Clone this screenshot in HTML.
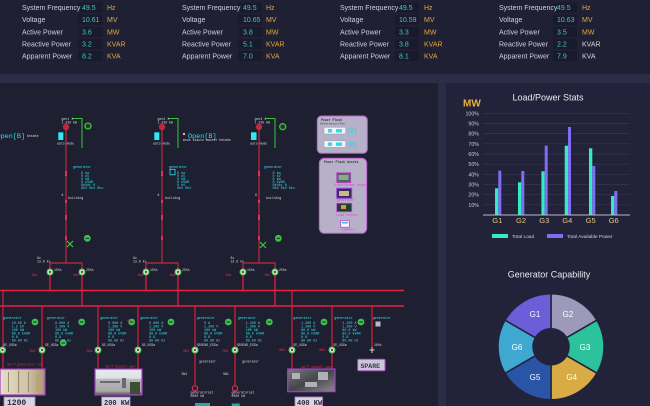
<!DOCTYPE html>
<html><head><meta charset="utf-8"><style>
html,body{margin:0;padding:0;background:#1f2034;width:650px;height:406px;overflow:hidden}
svg{display:block}
.l{font-family:"Liberation Sans",sans-serif;font-size:7px;fill:#d0d0dc}
.v{font-family:"Liberation Sans",sans-serif;font-size:7px;fill:#3ccdb6}
.u{font-family:"Liberation Sans",sans-serif;font-size:7px;fill:#e2a93c}
.uw{font-family:"Liberation Sans",sans-serif;font-size:7px;fill:#d8d8e4}
.m{font-family:"Liberation Mono",monospace;font-size:3.4px;fill:#35e2ea}
.w{font-family:"Liberation Mono",monospace;font-size:3.2px;fill:#d8d8e0}
.r{font-family:"Liberation Mono",monospace;font-size:3.4px;fill:#e0304a}
.p{font-family:"Liberation Mono",monospace;font-size:3.4px;fill:#e040e0}
.yl{font-family:"Liberation Sans",sans-serif;font-size:5.3px;fill:#c8c8d8;text-anchor:end}
.gl{font-family:"Liberation Sans",sans-serif;font-size:7.5px;fill:#e0c98a;text-anchor:middle}
.dl{font-family:"Liberation Sans",sans-serif;font-size:8px;fill:#ffffff;text-anchor:middle}
</style></head><body>
<svg width="650" height="406" viewBox="0 0 650 406" xmlns="http://www.w3.org/2000/svg">
<!-- backgrounds -->
<rect x="0" y="0" width="650" height="406" fill="#1f2034"/>
<rect x="0" y="74" width="650" height="9" fill="#2c2d47"/>
<rect x="0" y="83" width="438" height="323" fill="#1e1f31"/>
<rect x="438" y="83" width="8" height="323" fill="#2a2b44"/>
<rect x="446" y="83" width="204" height="323" fill="#22233a"/>

<!-- top stats -->
<g>
<rect x="78" y="2.5" width="24" height="10" fill="#191a2c"/><rect x="78" y="14.7" width="24" height="10" fill="#191a2c"/><rect x="78" y="26.9" width="24" height="10" fill="#191a2c"/><rect x="78" y="39" width="24" height="10" fill="#191a2c"/><rect x="78" y="50.9" width="24" height="10" fill="#191a2c"/>
<rect x="238" y="2.5" width="24" height="10" fill="#191a2c"/><rect x="238" y="14.7" width="24" height="10" fill="#191a2c"/><rect x="238" y="26.9" width="24" height="10" fill="#191a2c"/><rect x="238" y="39" width="24" height="10" fill="#191a2c"/><rect x="238" y="50.9" width="24" height="10" fill="#191a2c"/>
<rect x="395" y="2.5" width="24" height="10" fill="#191a2c"/><rect x="395" y="14.7" width="24" height="10" fill="#191a2c"/><rect x="395" y="26.9" width="24" height="10" fill="#191a2c"/><rect x="395" y="39" width="24" height="10" fill="#191a2c"/><rect x="395" y="50.9" width="24" height="10" fill="#191a2c"/>
<rect x="553" y="2.5" width="24" height="10" fill="#191a2c"/><rect x="553" y="14.7" width="24" height="10" fill="#191a2c"/><rect x="553" y="26.9" width="24" height="10" fill="#191a2c"/><rect x="553" y="39" width="24" height="10" fill="#191a2c"/><rect x="553" y="50.9" width="24" height="10" fill="#191a2c"/>

<text class="l" x="22" y="10">System Frequency</text><text class="v" x="82" y="10">49.5</text><text class="u" x="107" y="10">Hz</text>
<text class="l" x="22" y="22.2">Voltage</text><text class="v" x="82" y="22.2">10.61</text><text class="u" x="107" y="22.2">MV</text>
<text class="l" x="22" y="34.4">Active Power</text><text class="v" x="82" y="34.4">3.6</text><text class="u" x="107" y="34.4">MW</text>
<text class="l" x="22" y="46.5">Reactive Power</text><text class="v" x="82" y="46.5">3.2</text><text class="u" x="107" y="46.5">KVAR</text>
<text class="l" x="22" y="58.4">Apparent Power</text><text class="v" x="82" y="58.4">8.2</text><text class="u" x="107" y="58.4">KVA</text>

<text class="l" x="182" y="10">System Frequency</text><text class="v" x="243" y="10">49.5</text><text class="u" x="266" y="10">Hz</text>
<text class="l" x="182" y="22.2">Voltage</text><text class="v" x="243" y="22.2">10.65</text><text class="u" x="266" y="22.2">MV</text>
<text class="l" x="182" y="34.4">Active Power</text><text class="v" x="243" y="34.4">3.8</text><text class="u" x="266" y="34.4">MW</text>
<text class="l" x="182" y="46.5">Reactive Power</text><text class="v" x="243" y="46.5">5.1</text><text class="u" x="266" y="46.5">KVAR</text>
<text class="l" x="182" y="58.4">Apparent Power</text><text class="v" x="243" y="58.4">7.0</text><text class="u" x="266" y="58.4">KVA</text>

<text class="l" x="340" y="10">System Frequency</text><text class="v" x="399" y="10">49.5</text><text class="u" x="424" y="10">Hz</text>
<text class="l" x="340" y="22.2">Voltage</text><text class="v" x="399" y="22.2">10.59</text><text class="u" x="424" y="22.2">MV</text>
<text class="l" x="340" y="34.4">Active Power</text><text class="v" x="399" y="34.4">3.3</text><text class="u" x="424" y="34.4">MW</text>
<text class="l" x="340" y="46.5">Reactive Power</text><text class="v" x="399" y="46.5">3.8</text><text class="u" x="424" y="46.5">KVAR</text>
<text class="l" x="340" y="58.4">Apparent Power</text><text class="v" x="399" y="58.4">8.1</text><text class="u" x="424" y="58.4">KVA</text>

<text class="l" x="499" y="10">System Frequency</text><text class="v" x="557" y="10">49.5</text><text class="u" x="582" y="10">Hz</text>
<text class="l" x="499" y="22.2">Voltage</text><text class="v" x="557" y="22.2">10.63</text><text class="u" x="582" y="22.2">MV</text>
<text class="l" x="499" y="34.4">Active Power</text><text class="v" x="557" y="34.4">3.5</text><text class="u" x="582" y="34.4">MW</text>
<text class="l" x="499" y="46.5">Reactive Power</text><text class="v" x="557" y="46.5">2.2</text><text class="uw" x="582" y="46.5">KVAR</text>
<text class="l" x="499" y="58.4">Apparent Power</text><text class="v" x="557" y="58.4">7.9</text><text class="uw" x="582" y="58.4">KVA</text>
</g>

<!-- ===== Single line diagram ===== -->
<!-- top feeders -->
<g stroke="#a8283e" stroke-width="1.4" fill="none">
<line x1="66" y1="127" x2="66" y2="263"/>
<line x1="162" y1="127" x2="162" y2="263"/>
<line x1="259" y1="127" x2="259" y2="263"/>
<polyline points="50,269 50,263 82,263 82,269"/>
<polyline points="146,269 146,263 178,263 178,269"/>
<polyline points="243,269 243,263 275,263 275,269"/>
</g>
<!-- bright marks on feeders -->
<g fill="#e4304a">
<rect x="65" y="171" width="2" height="5"/><rect x="65" y="200" width="2" height="3"/><rect x="65" y="215" width="2" height="5"/><rect x="65" y="236" width="2" height="4"/>
<rect x="161" y="171" width="2" height="5"/><rect x="161" y="200" width="2" height="3"/><rect x="161" y="215" width="2" height="5"/><rect x="161" y="236" width="2" height="4"/>
<rect x="258" y="171" width="2" height="5"/><rect x="258" y="200" width="2" height="3"/><rect x="258" y="215" width="2" height="5"/><rect x="258" y="236" width="2" height="4"/>
</g>
<!-- top red circles -->
<g fill="#c02842"><circle cx="66" cy="127" r="3.2"/><circle cx="162" cy="127" r="3.2"/><circle cx="259" cy="127" r="3.2"/></g>
<!-- cyan squares -->
<g fill="#30e8f2"><rect x="58.3" y="132.3" width="5" height="7.7"/><rect x="154.3" y="132.3" width="5" height="7.7"/><rect x="251" y="132.3" width="5.5" height="7.7"/></g>
<!-- green brackets -->
<g stroke="#3cc43c" stroke-width="1" fill="none">
<polyline points="72,118.5 82,118.5 82,148"/>
<polyline points="168,118.5 178,118.5 178,148"/>
<polyline points="265,118.5 275,118.5 275,148"/>
</g>
<!-- green rings top -->
<g><circle cx="88" cy="126" r="3" fill="#1e3a24" stroke="#3cc43c" stroke-width="1.3"/><circle cx="282.7" cy="126.7" r="3" fill="#1e3a24" stroke="#3cc43c" stroke-width="1.3"/></g>
<!-- small labels top -->
<text class="w" x="61.5" y="120">gen1 1</text><text class="w" x="61.5" y="123.5">1.230 kW</text>
<text class="w" x="157.5" y="120">gen2 1</text><text class="w" x="157.5" y="123.5">1.230 kW</text>
<text class="w" x="254.5" y="120">gen3 1</text><text class="w" x="254.5" y="123.5">1.230 kW</text>
<text class="w" x="57" y="144.5">auto mode</text><text class="w" x="153" y="144.5">auto mode</text><text class="w" x="250" y="144.5">auto mode</text>
<text x="-3.5" y="138" style="font-family:'Liberation Mono',monospace;font-size:6.8px;fill:#35e2ea">Open[B]</text>
<text class="w" x="27" y="137">bekahe</text>
<circle cx="184" cy="134" r="1.2" fill="#f0a0b0"/>
<text x="188" y="138" style="font-family:'Liberation Mono',monospace;font-size:6.8px;fill:#35e2ea">Open[B]</text>
<text class="w" x="183" y="141">mode stauto master bekahe</text>
<!-- data blocks top -->
<g>
<text class="m" x="73" y="168">generator</text>
<text class="m" x="81" y="174">0 kw</text><text class="m" x="81" y="177">0 kV</text><text class="m" x="81" y="180">0 kW</text><text class="m" x="81" y="183">0 kVAR</text><text class="m" x="81" y="186">0kVAr 0</text><text class="m" x="81" y="189">0kV 0kV 0kv</text>
<text class="m" x="169" y="168">generator</text>
<rect x="170" y="169.3" width="5" height="5.5" fill="none" stroke="#35e2ea" stroke-width="0.8"/>
<text class="m" x="177" y="174">0 kw</text><text class="m" x="177" y="177">0 kV</text><text class="m" x="177" y="180">0 kW</text><text class="m" x="177" y="183">0 kVAR</text><text class="m" x="177" y="186">0 kV</text><text class="m" x="177" y="189">0kV 0kV</text>
<text class="m" x="264" y="168">generator</text>
<text class="m" x="272.5" y="174">0 kw</text><text class="m" x="272.5" y="177">0 kV</text><text class="m" x="272.5" y="180">0 kW</text><text class="m" x="272.5" y="183">0 kVAR</text><text class="m" x="272.5" y="186">0kVAr 0</text><text class="m" x="272.5" y="189">0kV 0kV 0kv</text>
</g>
<text class="w" x="61.5" y="196">8</text><text class="w" x="68" y="199">building</text>
<text class="w" x="157.5" y="196">8</text><text class="w" x="165" y="199">building</text>
<text class="w" x="255" y="196">8</text><text class="w" x="266" y="199">building</text>
<!-- lower green elements on F1/F3 -->
<circle cx="87.3" cy="238.3" r="3.4" fill="#3cc44a"/><rect x="85.5" y="237.8" width="3.6" height="1" fill="#1e1f31"/>
<circle cx="278.3" cy="238.3" r="3.4" fill="#3cc44a"/><rect x="276.5" y="237.8" width="3.6" height="1" fill="#1e1f31"/>
<g stroke="#3cc43c" stroke-width="1.2"><line x1="67" y1="241" x2="73" y2="247"/><line x1="73" y1="241" x2="67" y2="247"/><line x1="260" y1="242" x2="266" y2="248"/><line x1="266" y1="242" x2="260" y2="248"/></g>
<text class="w" x="37" y="259">8x</text><text class="w" x="37" y="262.5">13.8 kv</text>
<text class="w" x="133" y="259">8x</text><text class="w" x="133" y="262.5">13.8 kv</text>
<text class="w" x="230.5" y="259">8x</text><text class="w" x="230.5" y="262.5">13.8 kv</text>

<!-- connections to bus bars -->
<g stroke="#e0223c" stroke-width="1.3">
<line x1="50" y1="275" x2="50" y2="290.5"/><line x1="82" y1="275" x2="82" y2="306"/>
<line x1="146" y1="275" x2="146" y2="290.5"/><line x1="178" y1="275" x2="178" y2="306"/>
<line x1="243" y1="275" x2="243" y2="290.5"/><line x1="275" y1="275" x2="275" y2="306"/>
</g>
<!-- breaker rings top -->
<g fill="#d8e8c8" stroke="#6ac86a" stroke-width="1.3">
<circle cx="50" cy="272" r="2.8"/><circle cx="82" cy="272" r="2.8"/><circle cx="146" cy="272" r="2.8"/><circle cx="178" cy="272" r="2.8"/><circle cx="243" cy="272" r="2.8"/><circle cx="275" cy="272" r="2.8"/>
</g>
<g fill="#3a4a34"><circle cx="50" cy="272" r="1.1"/><circle cx="82" cy="272" r="1.1"/><circle cx="146" cy="272" r="1.1"/><circle cx="178" cy="272" r="1.1"/><circle cx="243" cy="272" r="1.1"/><circle cx="275" cy="272" r="1.1"/></g>
<text class="w" x="54" y="271">150s</text><text class="w" x="86" y="271">250s</text><text class="w" x="150" y="271">150s</text><text class="w" x="182" y="271">250s</text><text class="w" x="247" y="271">150s</text><text class="w" x="279" y="271">250s</text>
<text class="r" x="31.5" y="276">SW1</text><text class="r" x="73" y="276">SW1</text><text class="r" x="137.5" y="276">SW1</text><text class="r" x="169.5" y="276">SW1</text><text class="r" x="225.5" y="276">SW1</text><text class="r" x="264.5" y="276">SW1</text>

<!-- bus bars -->
<g stroke="#e8203c" stroke-width="1.6">
<line x1="0" y1="290.5" x2="404" y2="290.5"/>
<line x1="0" y1="306" x2="404" y2="306"/>
</g>
<!-- bottom feeders -->
<g stroke="#d82038" stroke-width="1.2">
<line x1="3" y1="290.5" x2="3" y2="370"/>
<line x1="42" y1="306" x2="42" y2="370"/>
<line x1="98" y1="306" x2="98" y2="370"/>
<line x1="138" y1="306" x2="138" y2="370"/>
<line x1="195" y1="306" x2="195" y2="385"/>
<line x1="235" y1="306" x2="235" y2="385"/>
<line x1="292" y1="290.5" x2="292" y2="370"/>
<line x1="332" y1="306" x2="332" y2="370"/>
<line x1="372" y1="306" x2="372" y2="347"/>
</g>
<!-- bottom breaker rings -->
<g fill="#d8e8c8" stroke="#6ac86a" stroke-width="1.3">
<circle cx="2.5" cy="350" r="2.8"/><circle cx="42" cy="350" r="2.8"/><circle cx="98" cy="350" r="2.8"/><circle cx="138" cy="350" r="2.8"/><circle cx="195" cy="350" r="2.8"/><circle cx="235" cy="350" r="2.8"/><circle cx="292" cy="350" r="2.8"/><circle cx="332" cy="350" r="2.8"/>
</g>
<g fill="#3a4a34"><circle cx="2.5" cy="350" r="1.1"/><circle cx="42" cy="350" r="1.1"/><circle cx="98" cy="350" r="1.1"/><circle cx="138" cy="350" r="1.1"/><circle cx="195" cy="350" r="1.1"/><circle cx="235" cy="350" r="1.1"/><circle cx="292" cy="350" r="1.1"/><circle cx="332" cy="350" r="1.1"/></g>
<g stroke="#d0d0d8" stroke-width="1"><line x1="369.5" y1="350" x2="374.5" y2="350"/><line x1="372" y1="347" x2="372" y2="353"/></g>
<!-- red circles bottom -->
<g fill="none" stroke="#e0304a" stroke-width="1.2"><circle cx="195" cy="388.3" r="2.6"/><circle cx="235" cy="388.3" r="2.6"/></g>
<!-- green generator dots -->
<g fill="#3cc44a">
<circle cx="35" cy="322" r="3.4"/><circle cx="81.7" cy="322" r="3.4"/><circle cx="63.3" cy="343" r="3.4"/><circle cx="131.7" cy="322" r="3.4"/><circle cx="171" cy="322" r="3.4"/><circle cx="228.3" cy="322" r="3.4"/><circle cx="269.3" cy="322" r="3.4"/><circle cx="324" cy="322" r="3.4"/><circle cx="361" cy="322" r="3.4"/>
</g>
<g fill="#1e1f31">
<rect x="33.2" y="321.5" width="3.6" height="1"/><rect x="79.9" y="321.5" width="3.6" height="1"/><rect x="61.5" y="342.5" width="3.6" height="1"/><rect x="129.9" y="321.5" width="3.6" height="1"/><rect x="169.2" y="321.5" width="3.6" height="1"/><rect x="226.5" y="321.5" width="3.6" height="1"/><rect x="267.5" y="321.5" width="3.6" height="1"/><rect x="322.2" y="321.5" width="3.6" height="1"/><rect x="359.2" y="321.5" width="3.6" height="1"/>
</g>
<!-- bottom data blocks -->
<g>
<text class="m" x="3.3" y="319">generator</text>
<text class="m" x="11.7" y="324">10.00 A</text><text class="m" x="11.7" y="327.5">1.2 kV</text><text class="m" x="11.7" y="331">100 kW</text><text class="m" x="11.7" y="334.5">80.0 kVAR</text><text class="m" x="11.7" y="338">0.8</text><text class="m" x="11.7" y="341.5">60.00 Hz</text>
<text class="m" x="46.7" y="319">generator</text>
<text class="m" x="55" y="324">0.000 A</text><text class="m" x="55" y="327.5">1.200 V</text><text class="m" x="55" y="331">100 kW</text><text class="m" x="55" y="334.5">80.0 kVAR</text><text class="m" x="55" y="338">0.8</text><text class="m" x="55" y="341.5">60.00 Hz</text>
<text class="m" x="100" y="319">generator</text>
<text class="m" x="108" y="324">0.000 A</text><text class="m" x="108" y="327.5">1.200 V</text><text class="m" x="108" y="331">100 kW</text><text class="m" x="108" y="334.5">80.0 kVAR</text><text class="m" x="108" y="338">0.8</text><text class="m" x="108" y="341.5">60.00 Hz</text>
<text class="m" x="140" y="319">generator</text>
<text class="m" x="149" y="324">0.000 A</text><text class="m" x="149" y="327.5">1.200 V</text><text class="m" x="149" y="331">100 kW</text><text class="m" x="149" y="334.5">80.0 kVAR</text><text class="m" x="149" y="338">0.8</text><text class="m" x="149" y="341.5">60.00 Hz</text>
<text class="m" x="196.7" y="319">generator</text>
<text class="m" x="204" y="324">0 A</text><text class="m" x="204" y="327.5">1.200 V</text><text class="m" x="204" y="331">100 kW</text><text class="m" x="204" y="334.5">80.0 kVAR</text><text class="m" x="204" y="338">0.8</text><text class="m" x="204" y="341.5">60.00 Hz</text>
<text class="m" x="237.7" y="319">generator</text>
<text class="m" x="245.7" y="324">1.200 A</text><text class="m" x="245.7" y="327.5">1.200 V</text><text class="m" x="245.7" y="331">100 kW</text><text class="m" x="245.7" y="334.5">80.0 kVAR</text><text class="m" x="245.7" y="338">0.8</text><text class="m" x="245.7" y="341.5">60.00 Hz</text>
<text class="m" x="293.3" y="319">generator</text>
<text class="m" x="301" y="324">1.200 A</text><text class="m" x="301" y="327.5">1.200 V</text><text class="m" x="301" y="331">80.0 kW</text><text class="m" x="301" y="334.5">80.0 kVAR</text><text class="m" x="301" y="338">0.8</text><text class="m" x="301" y="341.5">60.00 Hz</text>
<text class="m" x="334.3" y="319">generator</text>
<text class="m" x="342.3" y="324">1.200 A</text><text class="m" x="342.3" y="327.5">1.200 V</text><text class="m" x="342.3" y="331">80.0 kW</text><text class="m" x="342.3" y="334.5">80.0 kVAR</text><text class="m" x="342.3" y="338">0.8</text><text class="m" x="342.3" y="341.5">60.00 Hz</text>
<text class="m" x="372.7" y="319">generator</text>
<rect x="375.5" y="321.5" width="5" height="5" fill="#b8b8c8" stroke="#6a6a7a" stroke-width="0.5"/>
</g>
<!-- labels under bottom breakers -->
<text class="w" x="3.3" y="346">SE_UGSa</text><text class="w" x="45" y="346">SE_UGSa</text><text class="w" x="101.7" y="346">SE_UGSa</text><text class="w" x="141.7" y="346">SE_UGSa</text><text class="w" x="196.7" y="346">SEGEND_ESSa</text><text class="w" x="236.7" y="346">SEGEND_ESSa</text><text class="w" x="293.3" y="346">SE_UGSa</text><text class="w" x="333.3" y="346">SE_UGSa</text><text class="w" x="374" y="346">100s</text>
<text class="r" x="29.5" y="352">SW1</text><text class="r" x="86.5" y="352">SW1</text><text class="r" x="127" y="322">SW1</text><text class="r" x="183" y="352">SW1</text><text class="r" x="222.5" y="352">SW1</text><text class="r" x="279" y="351">SW1</text><text class="r" x="319" y="351">SW1</text>
<text class="w" x="199" y="362.5">generator</text><text class="w" x="242" y="362.5">generator</text>
<text class="w" x="181.5" y="375">SW1</text><text class="w" x="223" y="375">SW1</text>
<text class="w" x="190.5" y="393.5">generatorset</text><text class="w" x="190.5" y="397">0000 kW</text>
<text class="w" x="231.5" y="393.5">generatorset</text><text class="w" x="231.5" y="397">0000 kW</text>
<rect x="195" y="403" width="15" height="3" fill="#2aa8a0"/><rect x="231.7" y="403.5" width="8" height="2.5" fill="#2aa8a0"/>

<!-- photo labels -->
<text class="r" x="7" y="365.5" style="font-style:italic">42/T generator set</text>
<text class="r" x="105" y="367.5" style="font-style:italic">42/T diesel gen</text>
<text class="r" x="301" y="368" style="font-style:italic">42/T diesel gen</text>

<!-- photos -->
<defs>
<linearGradient id="g1" x1="0" x2="1" y1="0" y2="0"><stop offset="0" stop-color="#e6ddc8"/><stop offset="0.6" stop-color="#cfc3a8"/><stop offset="1" stop-color="#a89670"/></linearGradient>
<linearGradient id="g2" x1="0" x2="0" y1="0" y2="1"><stop offset="0" stop-color="#e6eaee"/><stop offset="0.35" stop-color="#dfe2e6"/><stop offset="0.4" stop-color="#b8b8bc"/><stop offset="0.85" stop-color="#a8a8a8"/><stop offset="1" stop-color="#4a5a3a"/></linearGradient>
<linearGradient id="g3" x1="0" x2="1" y1="0" y2="1"><stop offset="0" stop-color="#7a7a80"/><stop offset="0.5" stop-color="#45454c"/><stop offset="1" stop-color="#8a8a90"/></linearGradient>
</defs>
<rect x="0" y="369" width="45" height="26" fill="url(#g1)" stroke="#a440c4" stroke-width="1.2"/>
<g fill="#9a8c70"><rect x="8" y="372" width="1" height="20"/><rect x="18" y="371" width="1.2" height="22"/><rect x="28" y="372" width="1" height="20"/><rect x="36" y="374" width="6" height="18" fill="#b8a27a"/></g>
<rect x="95" y="369" width="47" height="26" fill="url(#g2)" stroke="#a440c4" stroke-width="1.2"/>
<g fill="#6a6a70"><rect x="100" y="381" width="20" height="2"/><rect x="122" y="378" width="4" height="10"/><rect x="130" y="382" width="10" height="12" fill="#3e4e34"/></g>
<rect x="287.7" y="369" width="47.3" height="22.7" fill="url(#g3)" stroke="#a440c4" stroke-width="1.2"/>
<g fill="#b0b0b6"><rect x="292" y="373" width="8" height="6"/><rect x="318" y="372" width="10" height="8"/><rect x="305" y="382" width="12" height="5"/></g>

<!-- label boxes -->
<rect x="4" y="397" width="31" height="10" fill="#d8d4e2" stroke="#b080d0" stroke-width="0.8"/>
<text x="7" y="405" style="font-family:'Liberation Mono',monospace;font-size:8px;font-weight:bold;fill:#2a2a3a">1200</text>
<rect x="101.7" y="397" width="28.3" height="10" fill="#d8d4e2" stroke="#b080d0" stroke-width="0.8"/>
<text x="104" y="405" style="font-family:'Liberation Mono',monospace;font-size:7px;font-weight:bold;fill:#2a2a3a">200 KW</text>
<rect x="295" y="397" width="27.5" height="10" fill="#d8d4e2" stroke="#b080d0" stroke-width="0.8"/>
<text x="297" y="405" style="font-family:'Liberation Mono',monospace;font-size:7px;font-weight:bold;fill:#2a2a3a">400 KW</text>
<rect x="357.7" y="359.3" width="27.3" height="11.4" rx="1" fill="#cac6d8" stroke="#a650c4" stroke-width="1"/>
<text x="360.5" y="367.8" style="font-family:'Liberation Mono',monospace;font-size:6.5px;font-weight:bold;fill:#3a3a4a">SPARE</text>

<!-- Power flash boxes -->
<rect x="317.3" y="116" width="50" height="37.3" rx="4" fill="#b6b0c8" stroke="#c060d0" stroke-width="1"/>
<text x="321" y="121" style="font-family:'Liberation Mono',monospace;font-size:3.2px;font-weight:bold;fill:#3a3a4a">Power Flash</text>
<text x="320" y="124.5" style="font-family:'Liberation Mono',monospace;font-size:3px;fill:#3a3a4a">Generation/Gen</text>
<rect x="324" y="127.3" width="21.7" height="6.7" rx="1" fill="#f0f2f8" stroke="#8a8aa0" stroke-width="0.4"/>
<rect x="328" y="129" width="4" height="3.5" fill="#38d8e8"/><rect x="336" y="129" width="6" height="3.5" fill="#38d8e8"/>
<text x="346.5" y="133.2" style="font-family:'Liberation Mono',monospace;font-size:6px;fill:#2ad0e0">[B]</text>
<rect x="324" y="140.7" width="21.7" height="6.7" rx="1" fill="#f0f2f8" stroke="#8a8aa0" stroke-width="0.4"/>
<rect x="328" y="142.4" width="4" height="3.5" fill="#38d8e8"/><rect x="336" y="142.4" width="6" height="3.5" fill="#38d8e8"/>
<text x="346.5" y="146.6" style="font-family:'Liberation Mono',monospace;font-size:6px;fill:#2ad0e0">[B]</text>

<rect x="319.3" y="158.3" width="47.4" height="75" rx="5" fill="#b6b0c8" stroke="#c060d0" stroke-width="1"/>
<text x="324" y="163" style="font-family:'Liberation Mono',monospace;font-size:3.2px;font-weight:bold;fill:#3a3a4a">Power Flash Assets</text>
<rect x="336.7" y="172.7" width="14" height="10" fill="#4a6a58" stroke="#c040d0" stroke-width="0.8"/>
<rect x="338.5" y="175" width="10" height="5" fill="#8aa890"/>
<text class="p" x="333" y="186">Transformer model</text>
<rect x="336.7" y="188.3" width="15" height="10" fill="#3a2a5a" stroke="#9a40e0" stroke-width="1"/>
<rect x="339" y="191" width="10" height="5" fill="#c8b890"/>
<text class="p" x="336.7" y="201">generator</text>
<rect x="336.7" y="203.3" width="15" height="8.4" fill="#2a3a3a" stroke="#c040d0" stroke-width="0.8"/>
<rect x="341" y="205" width="5" height="4" fill="#c8a040"/>
<text class="p" x="335.7" y="216">load center</text>
<rect x="340.7" y="220.7" width="8.6" height="6.6" fill="#f4f4fa" stroke="#d040d0" stroke-width="0.8"/>
<rect x="342" y="222" width="6" height="1.5" fill="#40c0e0"/>
<text class="p" x="340.7" y="230.5">summary</text>

<!-- ===== Bar chart ===== -->
<text x="548" y="100.5" text-anchor="middle" style="font-family:'Liberation Sans',sans-serif;font-size:9px;fill:#e8e8f0">Load/Power Stats</text>
<text x="463" y="106.5" style="font-family:'Liberation Sans',sans-serif;font-size:10px;font-weight:bold;fill:#e8b040">MW</text>
<g stroke="#363750" stroke-width="0.7">
<line x1="483" y1="113.3" x2="630" y2="113.3"/><line x1="483" y1="123.5" x2="630" y2="123.5"/><line x1="483" y1="133.6" x2="630" y2="133.6"/><line x1="483" y1="143.8" x2="630" y2="143.8"/><line x1="483" y1="154" x2="630" y2="154"/><line x1="483" y1="164.2" x2="630" y2="164.2"/><line x1="483" y1="174.3" x2="630" y2="174.3"/><line x1="483" y1="184.5" x2="630" y2="184.5"/><line x1="483" y1="194.7" x2="630" y2="194.7"/><line x1="483" y1="204.8" x2="630" y2="204.8"/>
</g>
<text class="yl" x="479" y="115.3">100%</text><text class="yl" x="479" y="125.5">90%</text><text class="yl" x="479" y="135.6">80%</text><text class="yl" x="479" y="145.8">70%</text><text class="yl" x="479" y="156">60%</text><text class="yl" x="479" y="166.2">50%</text><text class="yl" x="479" y="176.3">40%</text><text class="yl" x="479" y="186.5">30%</text><text class="yl" x="479" y="196.7">20%</text><text class="yl" x="479" y="206.8">10%</text>
<g fill="#33ecbf">
<rect x="495" y="188.3" width="3.3" height="26.7"/><rect x="518" y="182.3" width="3.3" height="32.7"/><rect x="541.4" y="171.3" width="3.3" height="43.7"/><rect x="564.7" y="145.7" width="3.3" height="69.3"/><rect x="589" y="148.3" width="3.3" height="66.7"/><rect x="611" y="196" width="3.3" height="19"/>
</g>
<g fill="#7e6ef2">
<rect x="498.3" y="170.7" width="3" height="44.3"/><rect x="521.3" y="171" width="3" height="44"/><rect x="544.7" y="145.7" width="3" height="69.3"/><rect x="568" y="127" width="3" height="88"/><rect x="592.3" y="166" width="3" height="49"/><rect x="614.3" y="191" width="3" height="24"/>
</g>
<line x1="483" y1="215" x2="630" y2="215" stroke="#b8b8c8" stroke-width="1"/>
<text class="gl" x="497.3" y="222.8">G1</text><text class="gl" x="521" y="222.8">G2</text><text class="gl" x="544.3" y="222.8">G3</text><text class="gl" x="567.3" y="222.8">G4</text><text class="gl" x="590.7" y="222.8">G5</text><text class="gl" x="613.7" y="222.8">G6</text>
<rect x="492" y="234" width="16" height="4" fill="#33ecbf"/>
<text x="512" y="238" style="font-family:'Liberation Sans',sans-serif;font-size:4.8px;fill:#d0d0dc">Total Load</text>
<rect x="547" y="234" width="16" height="4" fill="#7e6ef2"/>
<text x="567" y="238" style="font-family:'Liberation Sans',sans-serif;font-size:4.8px;fill:#d0d0dc">Total Available Power</text>

<!-- ===== Donut ===== -->
<text x="549" y="277.5" text-anchor="middle" style="font-family:'Liberation Sans',sans-serif;font-size:9px;fill:#e8e8f0">Generator Capability</text>
<g stroke="#22233a" stroke-width="1.5">
<path d="M551,293.7 A53,53 0 0 1 596.9,320.2 L566.6,337.7 A18,18 0 0 0 551,328.7 Z" fill="#9d99bb"/>
<path d="M596.9,320.2 A53,53 0 0 1 596.9,373.2 L566.6,355.7 A18,18 0 0 0 566.6,337.7 Z" fill="#2cc29c"/>
<path d="M596.9,373.2 A53,53 0 0 1 551,399.7 L551,364.7 A18,18 0 0 0 566.6,355.7 Z" fill="#d8ab44"/>
<path d="M551,399.7 A53,53 0 0 1 505.1,373.2 L535.4,355.7 A18,18 0 0 0 551,364.7 Z" fill="#2a55a6"/>
<path d="M505.1,373.2 A53,53 0 0 1 505.1,320.2 L535.4,337.7 A18,18 0 0 0 535.4,355.7 Z" fill="#3fa8d0"/>
<path d="M505.1,320.2 A53,53 0 0 1 551,293.7 L551,328.7 A18,18 0 0 0 535.4,337.7 Z" fill="#6a5fd8"/>
</g>
<text class="dl" x="535" y="317">G1</text><text class="dl" x="568" y="317">G2</text><text class="dl" x="585" y="350">G3</text><text class="dl" x="571.7" y="380">G4</text><text class="dl" x="535" y="380">G5</text><text class="dl" x="517" y="350">G6</text>
</svg>
</body></html>
